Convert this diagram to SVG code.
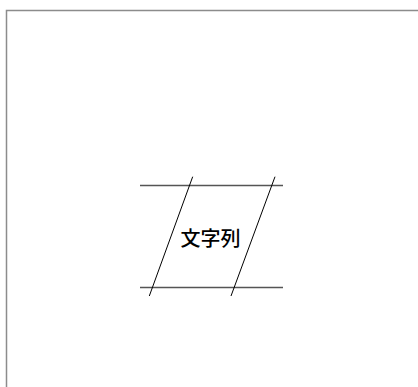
<svg xmlns="http://www.w3.org/2000/svg" width="418" height="387" viewBox="0 0 418 387">
<style>
.frame{fill:none;stroke:#8c8c8c;stroke-width:1.5}
.rail{stroke:#555;stroke-width:1.3}
.slant{stroke:#000;stroke-width:1}
.lbl{font-family:"Noto Sans CJK JP","Noto Sans",sans-serif;font-size:20px;font-weight:500;fill:#000}
</style>
<rect width="418" height="387" fill="#fff"/>
<path class="frame" d="M6.5 400 V10.5 H430"/>
<g id="connectors">
<line class="rail" x1="140" y1="185.5" x2="283" y2="185.5"/>
<line class="rail" x1="140" y1="287.5" x2="283" y2="287.5"/>
<line class="slant" x1="192.7" y1="176.7" x2="149.3" y2="296"/>
<line class="slant" x1="275" y1="176.7" x2="231" y2="296"/>
</g>
<g id="node-text">
<text class="lbl" x="210.5" y="246" text-anchor="middle">文字列</text>
</g>
</svg>
